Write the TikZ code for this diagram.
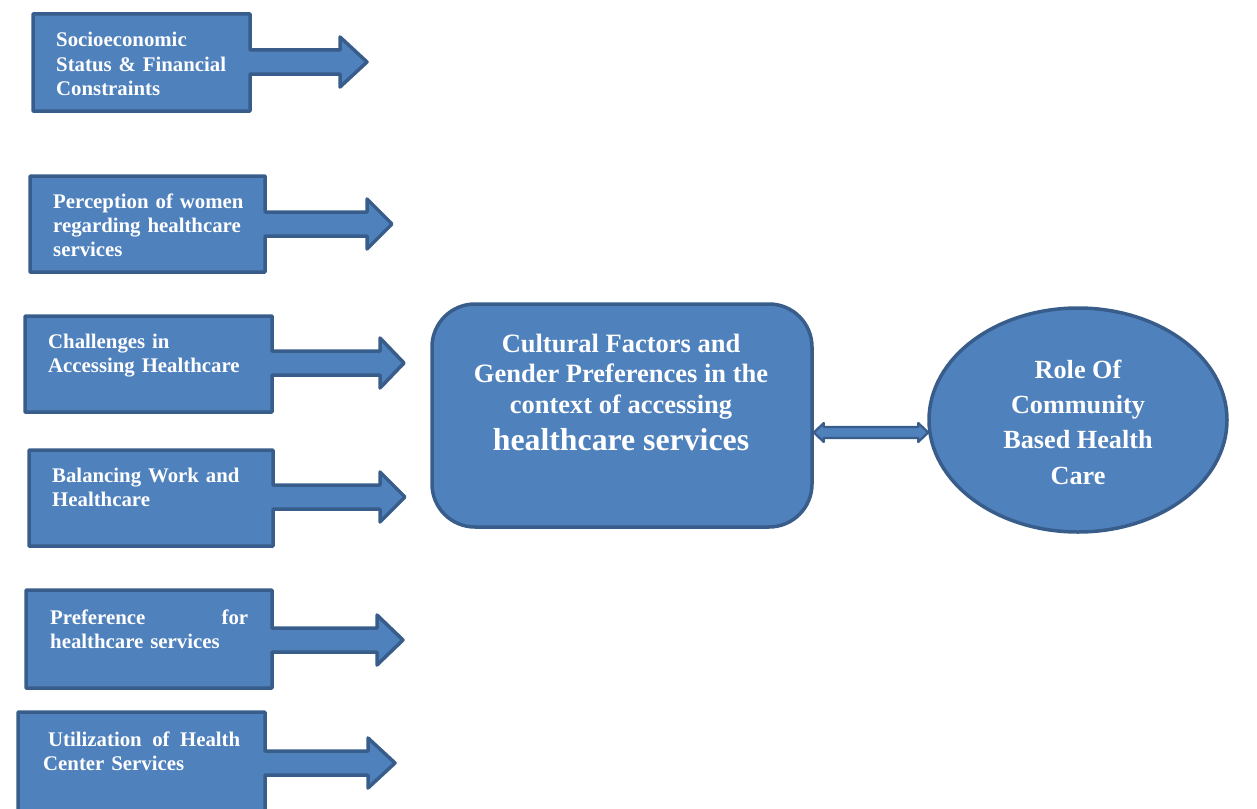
\documentclass[tikz,border=0pt]{standalone}
\usepackage{fontspec}
\setmainfont{Liberation Serif}
\usetikzlibrary{shapes.geometric,calc}
\definecolor{fillc}{HTML}{4F81BD}
\definecolor{strokec}{HTML}{385D8A}
\newcommand{\arrowbox}[7]{%
  \path[boxshape] (#1,#2) -- (#3,#2) -- ({#3},{#5-12}) -- ({#6},{#5-12}) -- ({#6},{#5-25})
    -- (#7,#5) -- ({#6},{#5+25}) -- ({#6},{#5+12}) -- ({#3},{#5+12}) -- (#3,#4) -- (#1,#4) -- cycle;}
\begin{document}
\begin{tikzpicture}[x=1pt,y=-1pt,
  boxshape/.style={fill=fillc, draw=strokec, line width=3.5pt, line join=round},
  lbl/.style={text=white, font=\fontsize{20.8}{24.3}\selectfont\bfseries, inner sep=0pt,
    anchor=base west, align=left, text width=#1},
  lbl/.default=215pt,
  bigtext/.style={text=white, inner sep=0pt, anchor=base, align=center}]
\useasboundingbox (0,0) rectangle (1257,808);
\clip (0,0) rectangle (1257,808);

% left arrow boxes
\arrowbox{33}{14}{250}{111}{62}{340}{367}
\arrowbox{30}{176}{265}{272}{224}{367}{392}
\arrowbox{25}{316}{272}{412}{363}{380}{404}
\arrowbox{29}{450}{273}{546}{497}{380}{405}
\arrowbox{26}{590}{272}{688}{640}{377}{403}
\arrowbox{18}{712}{265}{830}{763}{368}{395}

\node[lbl] (t1) at (56,47) {Socioeconomic\\Status \& Financial\\Constraints};
\node[lbl] (t2) at (53,208) {Perception of women\\regarding healthcare\\services};
\node[lbl] (t3) at (48,348) {Challenges in\\Accessing Healthcare};
\node[lbl] (t4) at (52,482) {Balancing Work and\\Healthcare};
\node[lbl=198pt] (t5) at (50,624) {Preference\hfill for\\healthcare services};
\node[lbl=197pt] (t6) at (43,746) {\hspace*{5pt}Utilization\hfill of\hfill Health\\Center Services};

% central rounded box
\node[draw=strokec, fill=fillc, line width=3.5pt, rounded corners=43pt,
  minimum width=380pt, minimum height=223pt, inner sep=0pt] (c) at (622,415.5) {};
\node[bigtext, font=\fontsize{26.5}{30.5}\selectfont\bfseries] (ct) at (621,450)
  {Cultural Factors and\\Gender Preferences in the\\context of accessing\\[6.5pt]
   {\fontsize{31.8}{37}\selectfont healthcare services}};

% ellipse
\node[ellipse, draw=strokec, fill=fillc, line width=3.5pt,
  minimum width=298pt, minimum height=224pt, inner sep=0pt] (e) at (1078,420) {};
\node[bigtext, font=\fontsize{26.2}{35.3}\selectfont\bfseries] (et) at (1078,484)
  {Role Of\\Community\\Based Health\\Care};

% double arrow connector
\coordinate (dl) at ($(c.east)+(0,17)$);
\coordinate (dr) at ($(e.west)+(1,12.5)$);
\path[fill=fillc, draw=strokec, line width=2.2pt, line join=round]
  (dl) -- ($(dl)+(10,-9.5)$) -- ($(dl)+(10,-5.5)$) -- ($(dr)+(-10,-5.5)$) -- ($(dr)+(-10,-9.5)$)
  -- (dr) -- ($(dr)+(-10,9.5)$) -- ($(dr)+(-10,5.5)$) -- ($(dl)+(10,5.5)$) -- ($(dl)+(10,9.5)$) -- cycle;
\end{tikzpicture}
\end{document}
